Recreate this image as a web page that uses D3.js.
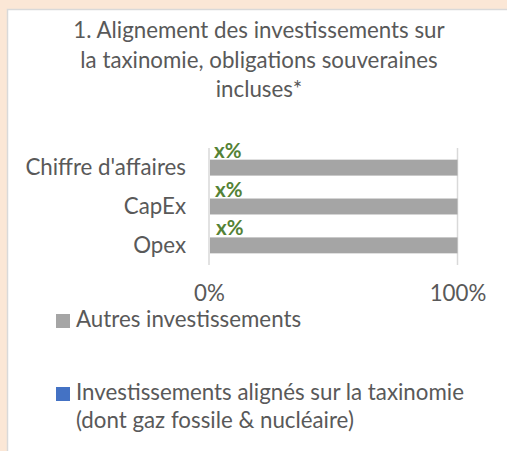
<!DOCTYPE html>
<html>
<head>
<meta charset="utf-8">
<script src="https://cdn.jsdelivr.net/npm/d3@7"></script>
<style>
  body { margin: 0; background: #fbe7d6; }
  svg { display: block; }
</style>
</head>
<body>
<div id="chart"></div>
<script>
// data
const categories = ["Chiffre d'affaires", "CapEx", "Opex"];
const alignedValues = [0, 0, 0];       // Investissements alignés (blue)
const otherValues = [100, 100, 100];   // Autres investissements (grey)
const valueLabels = ["x%", "x%", "x%"];
const tickValues = [0, 100];
const titleLines = [
    "1. Alignement des investissements sur",
    "la taxinomie, obligations souveraines",
    "incluses*"
];
const legendItems = [
    { lines: ["Autres investissements"], color: "#a5a5a5" },
    { lines: ["Investissements alignés sur la taxinomie", "(dont gaz fossile & nucléaire)"], color: "#4472c4" }
];

const W = 507, H = 451;
const font = "Lato, 'Open Sans', sans-serif";
const fontSize = "22.3px";
const textColor = "#595959";

const svg = d3.select("#chart")
    .append("svg")
    .attr("width", W)
    .attr("height", H);

// peach page + white chart panel
svg.append("rect")
    .attr("width", W).attr("height", H)
    .attr("fill", "#fbe7d6");
svg.append("rect")
    .attr("x", 7.5).attr("y", 9.5)
    .attr("width", W).attr("height", H)
    .attr("fill", "#ffffff")
    .attr("stroke", "#d9d9d9")
    .attr("stroke-width", 1.5);

// title
svg.append("text")
    .attr("text-anchor", "middle")
    .style("font-family", font)
    .style("font-size", fontSize)
    .attr("fill", textColor)
    .selectAll("tspan")
    .data(titleLines)
    .join("tspan")
    .attr("x", 259)
    .attr("y", (d, i) => 38 + i * 29.5)
    .text(d => d);

// plot area
const plot = { left: 209, right: 457.5, top: 148, bottom: 265 };

const x = d3.scaleLinear()
    .domain([0, 100])
    .range([plot.left, plot.right]);

const y = d3.scaleBand()
    .domain(categories)
    .range([plot.top, plot.bottom])
    .paddingInner(0.59)
    .paddingOuter(0.3);

// gridlines
svg.append("g")
    .selectAll("line")
    .data(tickValues)
    .join("line")
    .attr("x1", d => x(d)).attr("x2", d => x(d))
    .attr("y1", plot.top).attr("y2", plot.bottom)
    .attr("stroke", "#d9d9d9")
    .attr("stroke-width", 1.5);

// stacked bars
const rows = categories.map((c, i) => ({
    cat: c,
    aligned: alignedValues[i],
    other: otherValues[i],
    label: valueLabels[i]
}));

svg.append("g")
    .selectAll("rect.other")
    .data(rows)
    .join("rect")
    .attr("class", "other")
    .attr("x", d => x(d.aligned) + 1)
    .attr("y", d => y(d.cat))
    .attr("width", d => x(d.aligned + d.other) - x(d.aligned) - 1)
    .attr("height", y.bandwidth())
    .attr("fill", "#a5a5a5");

svg.append("g")
    .selectAll("rect.aligned")
    .data(rows)
    .join("rect")
    .attr("class", "aligned")
    .attr("x", x(0))
    .attr("y", d => y(d.cat))
    .attr("width", d => x(d.aligned) - x(0))
    .attr("height", y.bandwidth())
    .attr("fill", "#4472c4");

// data labels of the aligned series
svg.append("g")
    .selectAll("text")
    .data(rows)
    .join("text")
    .attr("x", (d, i) => x(d.aligned) + 5 + i)
    .attr("y", d => y(d.cat) - 2)
    .style("font-family", font)
    .style("font-size", "20.5px")
    .style("font-weight", 700)
    .attr("fill", "#548235")
    .text(d => d.label);

// category axis
const yAxis = svg.append("g")
    .attr("transform", `translate(${plot.left - 23},0)`)
    .call(d3.axisLeft(y).tickSize(0).tickPadding(0));
yAxis.select(".domain").remove();
yAxis.selectAll("text")
    .style("font-family", font)
    .style("font-size", fontSize)
    .attr("fill", textColor)
    .attr("dy", "0.35em");

// value axis
const xAxis = svg.append("g")
    .attr("transform", `translate(0,${plot.bottom})`)
    .call(d3.axisBottom(x).tickValues(tickValues).tickSize(0).tickPadding(0)
        .tickFormat(d => d + "%"));
xAxis.select(".domain").remove();
xAxis.selectAll("text")
    .attr("dy", 0)
    .attr("y", 36)
    .style("font-family", font)
    .style("font-size", fontSize)
    .attr("fill", textColor);

// legend
const legend = svg.append("g");
const legendY = [327, 400];
legendItems.forEach((item, i) => {
    const g = legend.append("g").attr("transform", `translate(56,${legendY[i]})`);
    g.append("rect")
        .attr("x", 0).attr("y", -13)
        .attr("width", 14).attr("height", 14)
        .attr("fill", item.color);
    g.append("text")
        .style("font-family", font)
        .style("font-size", fontSize)
        .attr("fill", textColor)
        .selectAll("tspan")
        .data(item.lines)
        .join("tspan")
        .attr("x", 20)
        .attr("y", (d, j) => j * 28)
        .text(d => d);
});
</script>
</body>
</html>
